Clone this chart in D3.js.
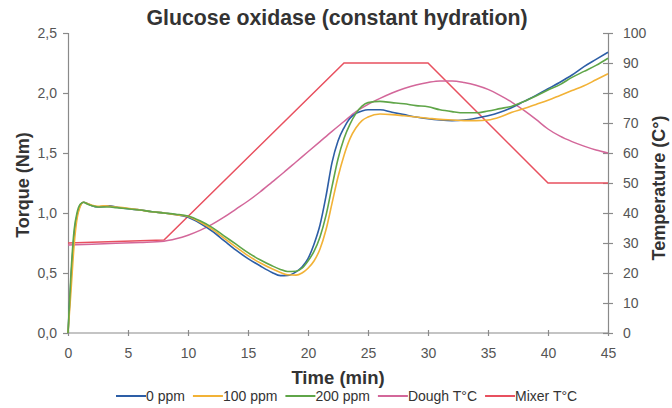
<!DOCTYPE html>
<html>
<head>
<meta charset="utf-8">
<script src="https://cdn.jsdelivr.net/npm/d3@7"></script>
<style>
  html, body { margin: 0; padding: 0; background: #fff; }
  svg { display: block; font-family: "Liberation Sans", Arial, Helvetica, sans-serif; }
</style>
</head>
<body>
<svg id="chart" width="672" height="408"></svg>
<script>
// Mixing time (min) at which the torque curves were sampled
const torqueTime = [0, 0.25, 0.5, 0.75, 1, 1.3, 1.6, 2, 2.5, 3, 3.5, 4, 5, 6, 7, 8, 9, 10, 11, 12, 13, 14, 15, 16, 17, 17.7, 18.3, 19, 19.5, 20, 20.5, 21, 21.5, 22, 22.5, 23, 23.5, 24, 24.5, 25, 26, 27, 28, 29, 30, 31, 32, 33, 34, 35, 36, 37, 38, 39, 40, 41, 42, 43, 44, 45];

// Torque (Nm) per glucose oxidase dosage
const torque0 = [0, 0.45, 0.8, 0.98, 1.06, 1.09, 1.08, 1.06, 1.05, 1.055, 1.06, 1.05, 1.035, 1.025, 1.01, 1.0, 0.985, 0.965, 0.915, 0.85, 0.77, 0.69, 0.62, 0.56, 0.505, 0.478, 0.48, 0.51, 0.55, 0.62, 0.74, 0.9, 1.14, 1.42, 1.6, 1.71, 1.79, 1.83, 1.85, 1.86, 1.86, 1.84, 1.82, 1.8, 1.785, 1.775, 1.77, 1.775, 1.79, 1.81, 1.84, 1.88, 1.93, 1.98, 2.035, 2.09, 2.15, 2.22, 2.28, 2.34];
const torque100 = [0, 0.35, 0.72, 0.95, 1.05, 1.09, 1.08, 1.065, 1.055, 1.06, 1.055, 1.05, 1.04, 1.025, 1.01, 1.0, 0.985, 0.97, 0.925, 0.865, 0.79, 0.715, 0.645, 0.585, 0.535, 0.505, 0.485, 0.482, 0.5, 0.54, 0.6, 0.7, 0.86, 1.08, 1.3, 1.48, 1.62, 1.71, 1.77, 1.8, 1.825, 1.82, 1.81, 1.8, 1.79, 1.78, 1.775, 1.77, 1.77, 1.775, 1.8, 1.84, 1.87, 1.905, 1.94, 1.98, 2.02, 2.06, 2.11, 2.16];
const torque200 = [0, 0.5, 0.85, 1.0, 1.07, 1.09, 1.075, 1.06, 1.05, 1.05, 1.05, 1.045, 1.035, 1.025, 1.01, 1.0, 0.99, 0.975, 0.935, 0.88, 0.81, 0.74, 0.67, 0.61, 0.56, 0.53, 0.512, 0.515, 0.54, 0.6, 0.68, 0.8, 0.98, 1.22, 1.45, 1.62, 1.74, 1.83, 1.89, 1.92, 1.93, 1.92, 1.91, 1.895, 1.885, 1.86, 1.845, 1.835, 1.835, 1.85, 1.87, 1.89, 1.93, 1.975, 2.025, 2.07, 2.13, 2.18, 2.23, 2.29];

// Dough temperature (°C)
const doughTime = [0, 2, 4, 6, 8, 9, 10, 11, 12, 13, 14, 15, 16, 17, 18, 19, 20, 21, 22, 23, 24, 25, 26, 27, 28, 29, 30, 31, 32, 33, 34, 35, 36, 37, 38, 39, 40, 41, 42, 43, 44, 45];
const doughTemp = [29.3, 29.6, 29.9, 30.2, 30.6, 31.4, 32.6, 34.2, 36.2, 38.6, 41.3, 44, 47, 50.3, 53.6, 57, 60.4, 63.8, 67.2, 70.5, 73.8, 76.2, 78.2, 80, 81.5, 82.7, 83.5, 84, 84, 83.5, 82.6, 81.2, 79.2, 76.9, 74.2, 71.2, 68, 65.6, 63.8, 62.3, 61, 60];

// Mixer bowl temperature program (°C)
const mixerTime = [0, 8, 23, 30, 40, 45];
const mixerTemp = [30, 31, 90, 90, 50, 50];

// Axis ticks
const xTicks = [0, 5, 10, 15, 20, 25, 30, 35, 40, 45];
const torqueTicks = [0, 0.5, 1, 1.5, 2, 2.5];
const tempTicks = [0, 10, 20, 30, 40, 50, 60, 70, 80, 90, 100];

// Series names and colours
const seriesNames = ["0 ppm", "100 ppm", "200 ppm", "Dough T°C", "Mixer T°C"];
const seriesColors = ["#2d5ea6", "#f2b236", "#5fa548", "#d3679a", "#e8505f"];

const svg = d3.select("#chart");
const margin = { left: 68, right: 64, top: 33, bottom: 75 };
const W = 672, H = 408;

const x = d3.scaleLinear().domain([0, 45]).range([margin.left, W - margin.right]);
const yT = d3.scaleLinear().domain([0, 2.5]).range([H - margin.bottom, margin.top]);
const yC = d3.scaleLinear().domain([0, 100]).range([H - margin.bottom, margin.top]);

const fmtComma = d => d3.format(".1f")(d).replace(".", ",");
const axisColor = "#8a8a8a";
const labelColor = "#555";

// Left torque axis
const gL = svg.append("g").attr("transform", `translate(${margin.left},0)`)
  .call(d3.axisLeft(yT).tickValues(torqueTicks).tickFormat(fmtComma).tickSize(5).tickPadding(6));
// Right temperature axis
const gR = svg.append("g").attr("transform", `translate(${W - margin.right},0)`)
  .call(d3.axisRight(yC).tickValues(tempTicks).tickSize(5).tickPadding(10));
gR.selectAll(".tick line").attr("x1", -5);
// Bottom time axis
const gB = svg.append("g").attr("transform", `translate(0,${H - margin.bottom})`)
  .call(d3.axisBottom(x).tickValues(xTicks).tickSize(3).tickPadding(12));
gB.selectAll(".tick line").attr("y1", -3);

[gL, gR, gB].forEach(g => {
  g.select(".domain").attr("stroke", axisColor).attr("stroke-width", 1.2);
  g.selectAll(".tick line").attr("stroke", axisColor).attr("stroke-width", 1.2);
  g.selectAll(".tick text").attr("fill", labelColor).attr("font-size", 14)
    .attr("font-family", "Liberation Sans, Arial, sans-serif");
});
gB.select(".domain").attr("d", `M${margin.left},0H${W - margin.right}`);

// Temperature curves
const lineC = d3.line().x(d => x(d[0])).y(d => yC(d[1]));
svg.append("path")
  .datum(mixerTime.map((t, i) => [t, mixerTemp[i]]))
  .attr("fill", "none").attr("stroke", seriesColors[4]).attr("stroke-width", 1.5)
  .attr("d", lineC);
svg.append("path")
  .datum(doughTime.map((t, i) => [t, doughTemp[i]]))
  .attr("fill", "none").attr("stroke", seriesColors[3]).attr("stroke-width", 1.5)
  .attr("d", lineC.curve(d3.curveMonotoneX));

// Torque curves
const lineT = d3.line().x(d => x(d[0])).y(d => yT(d[1])).curve(d3.curveMonotoneX);
[torque0, torque100, torque200].forEach((vals, k) => {
  svg.append("path")
    .datum(torqueTime.map((t, i) => [t, vals[i]]))
    .attr("fill", "none").attr("stroke", seriesColors[k]).attr("stroke-width", 1.6)
    .attr("d", lineT);
});

// Titles
svg.append("text").attr("x", 337).attr("y", 25).attr("text-anchor", "middle")
  .attr("font-size", 21.3).attr("font-weight", "bold").attr("fill", "#333")
  .text("Glucose oxidase (constant hydration)");
svg.append("text").attr("x", 338).attr("y", 384).attr("text-anchor", "middle")
  .attr("font-size", 18.5).attr("font-weight", "bold").attr("fill", "#333")
  .text("Time (min)");
svg.append("text").attr("transform", "translate(29,185) rotate(-90)").attr("text-anchor", "middle")
  .attr("font-size", 18).attr("font-weight", "bold").attr("fill", "#333")
  .text("Torque (Nm)");
svg.append("text").attr("transform", "translate(665,188) rotate(-90)").attr("text-anchor", "middle")
  .attr("font-size", 18).attr("font-weight", "bold").attr("fill", "#333")
  .text("Temperature (C°)");

// Legend
const legend = svg.append("g");
let lx = 116;
const ly = 396;
seriesNames.forEach((name, i) => {
  legend.append("line").attr("x1", lx).attr("x2", lx + 30).attr("y1", ly).attr("y2", ly)
    .attr("stroke", seriesColors[i]).attr("stroke-width", 2);
  const t = legend.append("text").attr("x", lx + 30).attr("y", ly + 5)
    .attr("font-size", 14).attr("fill", "#333").text(name);
  lx += 30 + t.node().getComputedTextLength() + 8;
});
</script>
</body>
</html>
